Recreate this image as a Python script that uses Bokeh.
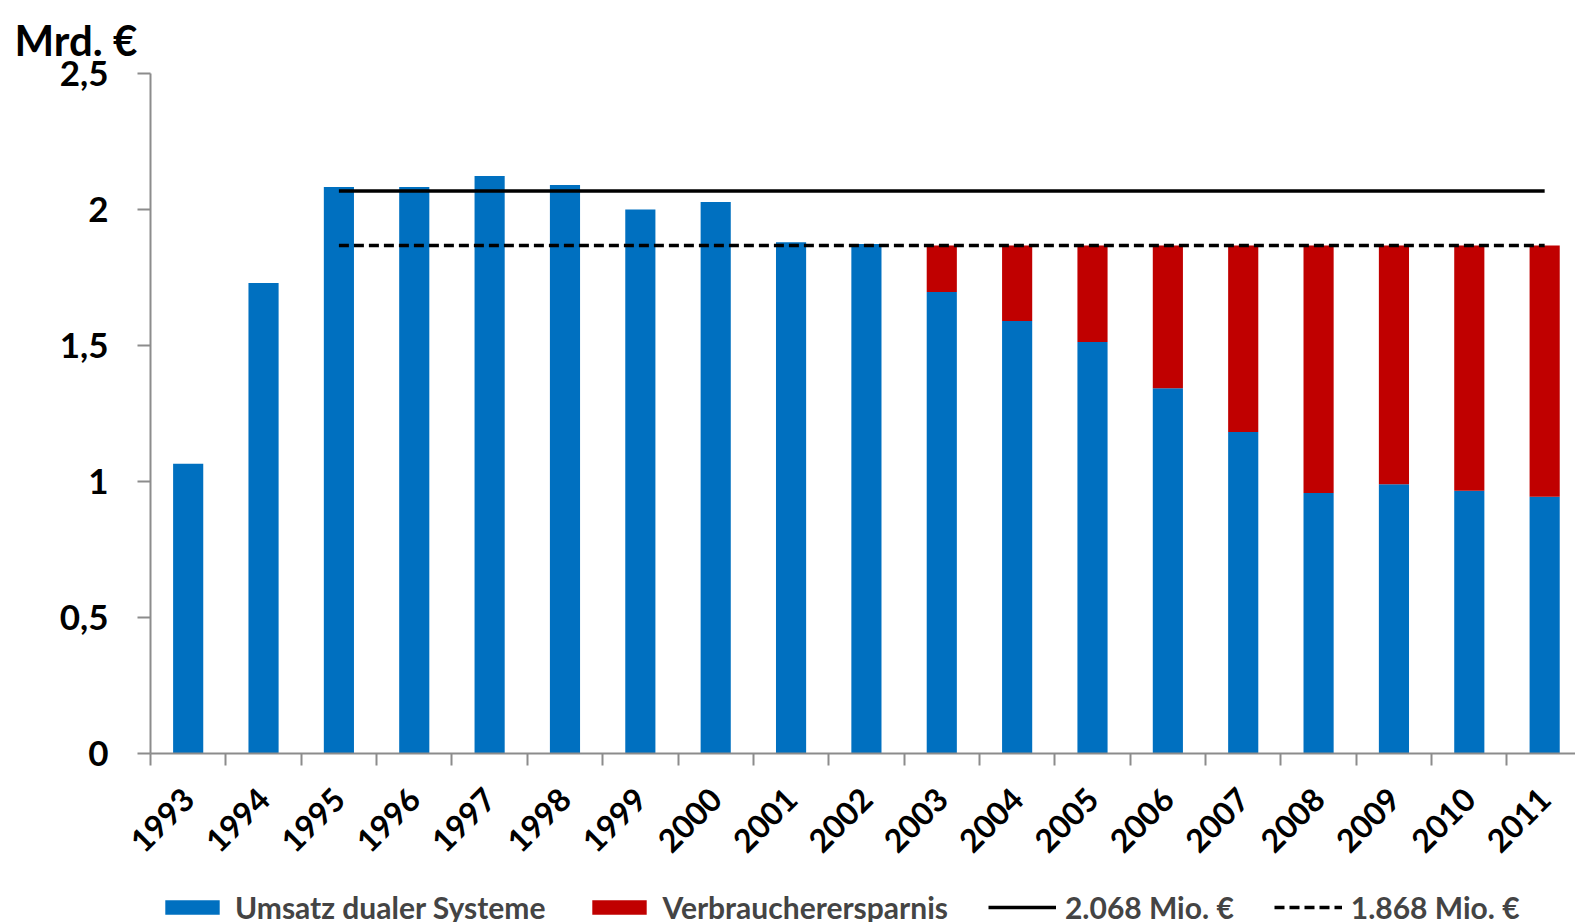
import numpy as np
from bokeh.plotting import figure
from bokeh.layouts import column
from bokeh.models import (ColumnDataSource, FixedTicker, CustomJSTickFormatter,
                          Legend, LegendItem, Range1d)
from bokeh.embed import file_html
from bokeh.resources import INLINE

years = ["1993", "1994", "1995", "1996", "1997", "1998", "1999", "2000", "2001", "2002",
         "2003", "2004", "2005", "2006", "2007", "2008", "2009", "2010", "2011"]
umsatz = [1.065, 1.730, 2.083, 2.083, 2.123, 2.090, 2.000, 2.028, 1.880, 1.873,
          1.697, 1.590, 1.513, 1.343, 1.182, 0.958, 0.990, 0.966, 0.944]
ersparnis = [0, 0, 0, 0, 0, 0, 0, 0, 0, 0,
             0.171, 0.278, 0.355, 0.525, 0.686, 0.910, 0.878, 0.902, 0.924]
ref_values = [2.068, 1.868]
ref_labels = ["2.068 Mio. €", "1.868 Mio. €"]
series_labels = ["Umsatz dualer Systeme", "Verbraucherersparnis"]
ref_start, ref_end = "1995", "2011"
y_ticks = [0, 0.5, 1, 1.5, 2, 2.5]

BLUE = "#0070C0"
RED = "#C00000"
FONT = "Lato"
W = 1575
FL, FT, FW, FH = 150, 73, 1425, 680
BOTTOM = 136
LEG_H = 922 - (FT + FH + BOTTOM)
CAT_PX = 75.36

# ---------- main chart ----------
xpos = np.arange(len(years)) + 0.5
src = ColumnDataSource(dict(x=xpos, umsatz=umsatz, ersparnis=ersparnis))

p = figure(width=W, height=FT + FH + BOTTOM, output_backend="svg", toolbar_location=None,
           x_range=Range1d(0, FW / CAT_PX), y_range=Range1d(0, 2.5),
           min_border_left=FL, min_border_top=FT, min_border_bottom=BOTTOM,
           min_border_right=0)
p.outline_line_color = None
p.xgrid.visible = False
p.ygrid.visible = False
p.background_fill_color = "white"

p.title.text = "Mrd. €"
p.title.align = "left"
p.title.offset = 14 - FL
p.title.standoff = 18
p.title.text_font = FONT
p.title.text_font_style = "bold"
p.title.text_font_size = "42px"
p.title.text_color = "black"

p.vbar_stack(["umsatz", "ersparnis"], x="x", width=0.4, source=src,
             color=[BLUE, RED], line_color=None)

xs = [xpos[years.index(ref_start)], xpos[years.index(ref_end)]]
p.line(xs, [ref_values[0]] * 2, line_color="black", line_width=3.5)
p.line(xs, [ref_values[1]] * 2, line_color="black", line_width=3.5, line_dash="10 5")

xa = p.xaxis[0]
xa.ticker = FixedTicker(ticks=list(xpos), minor_ticks=list(range(len(years) + 1)))
xa.major_label_overrides = {float(x): y for x, y in zip(xpos, years)}
xa.major_label_orientation = np.pi / 4
xa.major_tick_line_color = None
xa.minor_tick_line_color = "#8c8c8c"
xa.minor_tick_line_width = 2
xa.minor_tick_in = 0
xa.minor_tick_out = 12
xa.axis_line_color = "#8c8c8c"
xa.axis_line_width = 2
xa.major_label_text_font = FONT
xa.major_label_text_font_style = "bold"
xa.major_label_text_font_size = "32px"
xa.major_label_text_color = "black"
xa.major_label_standoff = 28

ya = p.yaxis[0]
ya.ticker = FixedTicker(ticks=y_ticks)
ya.formatter = CustomJSTickFormatter(code="return tick.toString().replace('.', ',');")
ya.minor_tick_line_color = None
ya.major_tick_in = 0
ya.major_tick_out = 13
ya.major_tick_line_color = "#8c8c8c"
ya.major_tick_line_width = 2
ya.axis_line_color = "#8c8c8c"
ya.axis_line_width = 2
ya.major_label_text_font = FONT
ya.major_label_text_font_style = "bold"
ya.major_label_text_font_size = "35px"
ya.major_label_text_color = "black"
ya.major_label_standoff = 29

# ---------- legend strip ----------
pl = figure(width=W, height=LEG_H, output_backend="svg", toolbar_location=None,
            x_axis_location=None, y_axis_location=None, title_location=None,
            x_range=Range1d(0, 1), y_range=Range1d(0, 1),
            min_border_left=FL, min_border_right=0, min_border_top=0,
            min_border_bottom=0)
pl.outline_line_color = None
pl.xgrid.visible = False
pl.ygrid.visible = False
# legend-only swatch renderers (kept outside the visible range)
g1 = pl.vbar(x=[-5], top=[-5], width=0.4, color=BLUE, line_color=None)
g2 = pl.vbar(x=[-5], top=[-5], width=0.4, color=RED, line_color=None)
g3 = pl.line(x=[-6, -5], y=[-5, -5], line_color="black", line_width=3.5)
g4 = pl.line(x=[-6, -5], y=[-5, -5], line_color="black", line_width=3.5,
             line_dash="10 5")

legend = Legend(items=[
    LegendItem(label=series_labels[0], renderers=[g1]),
    LegendItem(label=series_labels[1], renderers=[g2]),
    LegendItem(label=ref_labels[0], renderers=[g3]),
    LegendItem(label=ref_labels[1], renderers=[g4]),
], orientation="horizontal", location=(8, LEG_H - 36))
legend.glyph_width = 68
legend.glyph_height = 18
legend.label_text_font = FONT
legend.label_text_font_style = "bold"
legend.label_text_font_size = "30px"
legend.label_standoff = 9
legend.spacing = 40
legend.padding = 0
legend.margin = 0
legend.border_line_color = None
legend.background_fill_alpha = 0
pl.add_layout(legend)

layout = column(p, pl, spacing=0)
open("out.html", "w").write(file_html(layout, INLINE))
